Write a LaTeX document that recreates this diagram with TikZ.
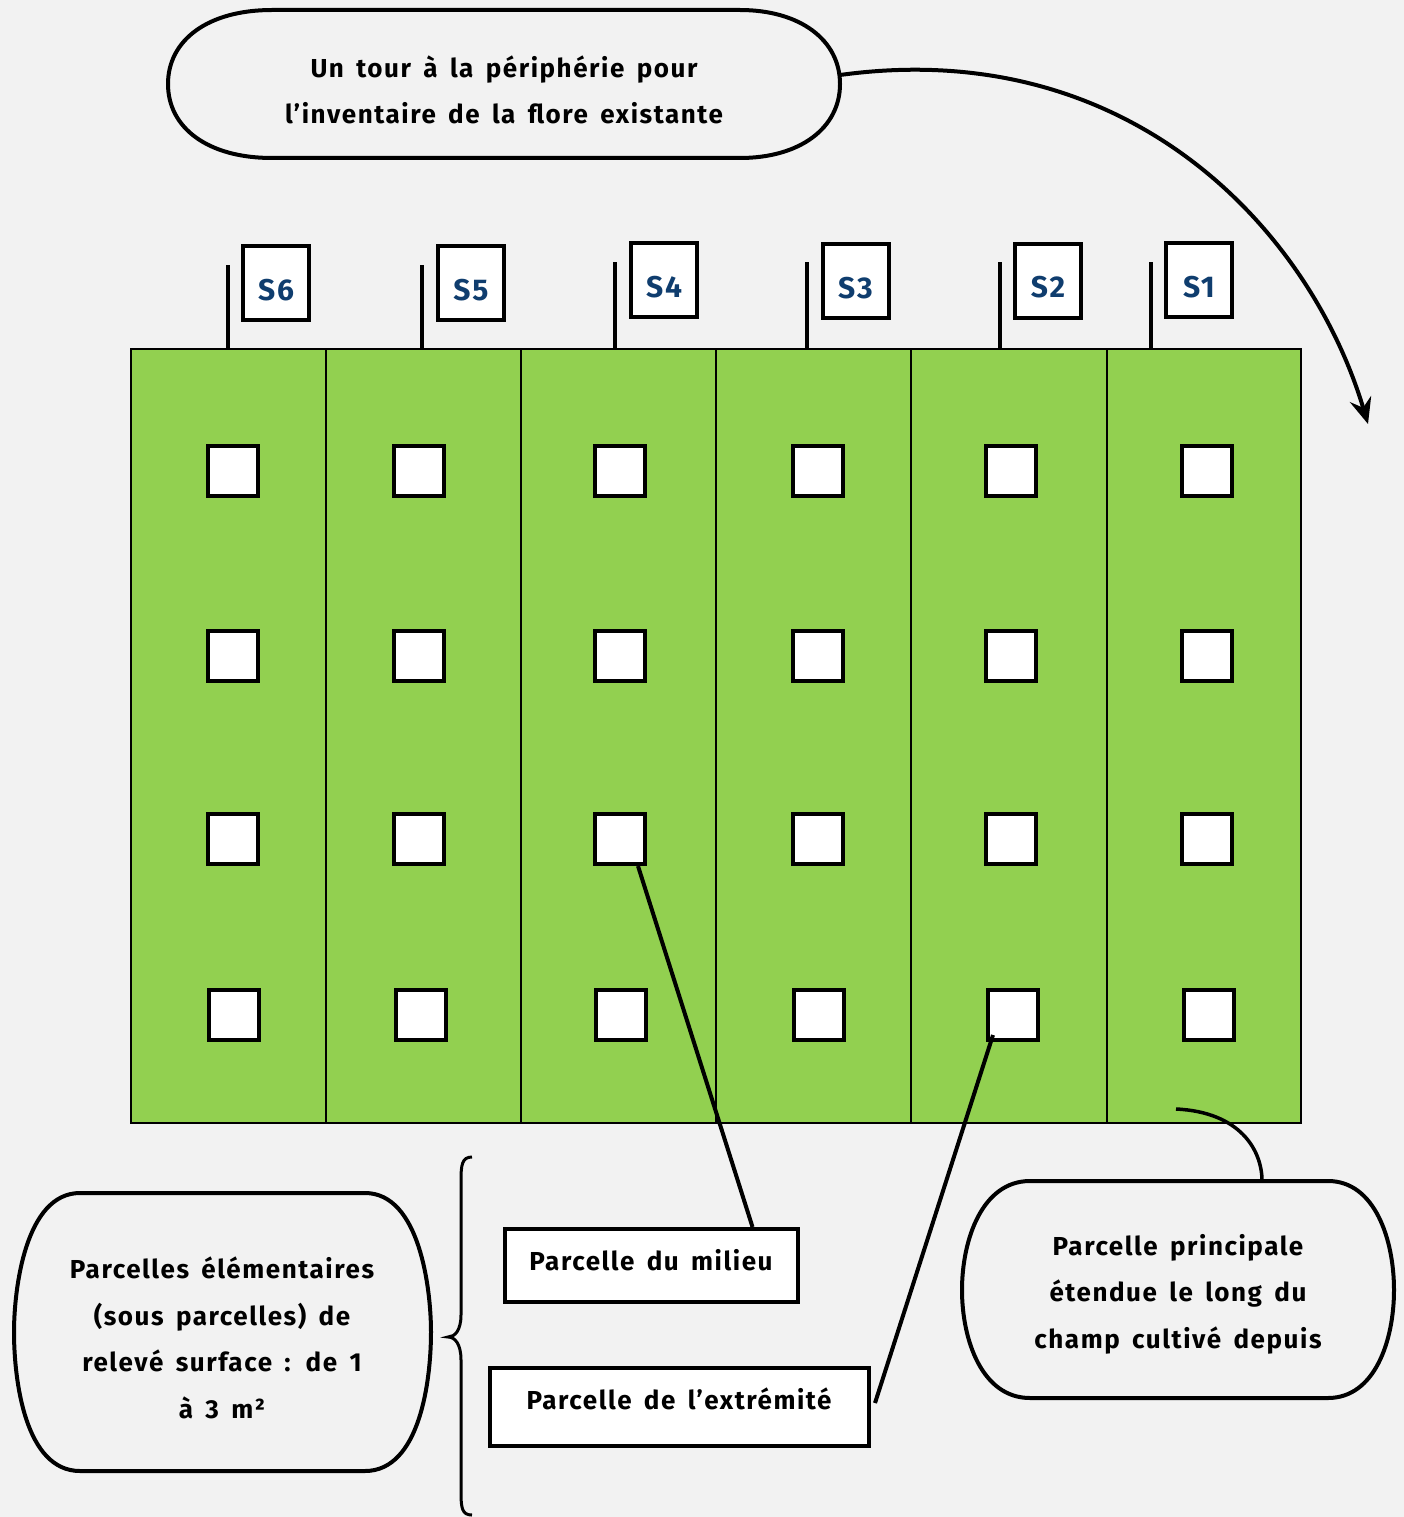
\documentclass[tikz,border=0pt]{standalone}
\usepackage{fontspec}
\setmainfont{Fira Sans}[LetterSpace=6, WordSpace=1.6]
\usetikzlibrary{arrows.meta,calc}
\definecolor{bg}{HTML}{F2F2F2}
\definecolor{field}{HTML}{92D050}
\definecolor{sblue}{HTML}{0F3D6E}
\begin{document}
\begin{tikzpicture}[x=1pt,y=-1pt,
  sq/.style={draw, line width=4pt, fill=white, minimum size=50pt, inner sep=0pt},
  flagbox/.style={draw, line width=4pt, fill=white, minimum width=66pt, minimum height=74pt, inner sep=0pt},
  flagtxt/.style={font=\fontsize{30}{30}\selectfont\bfseries, text=sblue, inner sep=0pt},
  pole/.style={line width=4pt},
  outline/.style={draw, line width=4pt, fill=bg},
  txt/.style={font=\fontsize{26}{46.5}\selectfont\bfseries, align=center, inner sep=0pt},
  conn/.style={line width=4pt},
  labelbox/.style={draw, line width=4pt, fill=white, inner sep=0pt}
]
\fill[bg] (0,0) rectangle (1404,1517);
\useasboundingbox (0,0) rectangle (1404,1517);

% top bubble
\draw[outline] (272,10) -- (740,10) .. controls (800,10) and (840,40) .. (840,84)
  .. controls (840,128) and (800,158) .. (740,158) -- (272,158)
  .. controls (208,158) and (168,128) .. (168,84) .. controls (168,40) and (208,10) .. (272,10) -- cycle;
\node[txt] (toptxt) at (504,90) {Un tour à la périphérie pour\\l’inventaire de la flore existante};
\coordinate (topright) at (840,75);
\coordinate (arrowend) at (1368,424);
\draw[conn, -{Stealth[length=26pt,width=22pt,inset=9pt]}] (topright) .. controls (1130,35) and (1310,230) .. (arrowend);

% field
\node[draw, line width=2pt, fill=field, minimum width=1170pt, minimum height=774pt, inner sep=0pt] (field) at (716,736) {};
\foreach \x in {326,521,716,911,1107} \draw[line width=2pt] (\x,349) -- (\x,1123);

% poles and flags
\foreach \x/\n/\t in {228/6/265,422/5/265,615/4/262,807/3/262,1000/2/262,1151/1/262} {
  \coordinate (pole\n) at (\x,\t);
  \draw[pole] (pole\n) -- (pole\n |- field.north);
}
\foreach \x/\y/\n in {276/283/6,471/283/5,664/280/4,855.5/281/3,1048/280.5/2,1199/280/1} {
  \node[flagbox] (flag\n) at (\x,\y) {};
  \node[flagtxt] (flagt\n) at (\x,\y+7) {S\n};
}

% small squares
\foreach \x [count=\c] in {233,419,620,818,1011,1207} {
  \foreach \y [count=\r] in {471,656,839} {
    \node[sq] (sq\c\r) at (\x,\y) {};
  }
}
\foreach \x [count=\c] in {234,421,621,819,1013,1209} {
  \node[sq] (sq\c4) at (\x,1015) {};
}

% label boxes
\node[labelbox, minimum width=293pt, minimum height=73pt] (milieu) at (651.5,1265.5) {};
\node[txt] (milieutxt) at (651,1260) {Parcelle du milieu};
\node[labelbox, minimum width=379pt, minimum height=78pt] (extr) at (679.5,1407) {};
\node[txt] (extrtxt) at (679,1399) {Parcelle de l’extrémité};

\draw[conn] ($(sq33.south)+(18,0)$) -- ($(milieu.north)+(101,0)$);
\draw[conn] ($(sq54.south)+(-20,-7)$) -- ($(extr.east)+(4,-4)$);

% brace
\draw[line width=3pt] (472,1157) .. controls (462,1157) and (461,1165) .. (461,1180) -- (461,1315)
  .. controls (461,1330) and (455,1337) .. (448,1337)
  .. controls (455,1337) and (461,1344) .. (461,1360) -- (461,1492)
  .. controls (461,1508) and (462,1515) .. (472,1515);

% left bubble
\draw[outline] (80,1193) -- (365,1193) .. controls (420,1193) and (431,1290) .. (431,1332)
  .. controls (431,1380) and (420,1471) .. (365,1471) -- (80,1471)
  .. controls (25,1471) and (14,1380) .. (14,1332) .. controls (14,1290) and (25,1193) .. (80,1193) -- cycle;
\node[txt] (lefttxt) at (222,1338) {Parcelles élémentaires\\(sous parcelles) de\\relevé surface : de 1\\à 3 m²};

% right bubble
\draw[outline] (1030,1181) -- (1328,1181) .. controls (1375,1181) and (1394,1240) .. (1394,1290)
  .. controls (1394,1340) and (1375,1398) .. (1328,1398) -- (1030,1398)
  .. controls (982,1398) and (962,1340) .. (962,1290) .. controls (962,1240) and (982,1181) .. (1030,1181) -- cycle;
\node[txt] (righttxt) at (1178,1294) {Parcelle principale\\étendue le long du\\champ cultivé depuis};
\coordinate (fieldpt) at (1176,1109);
\coordinate (rbtop) at (1262,1181);
\draw[line width=3.5pt] (fieldpt) .. controls (1240,1112) and (1262,1150) .. (rbtop);
\end{tikzpicture}
\end{document}
